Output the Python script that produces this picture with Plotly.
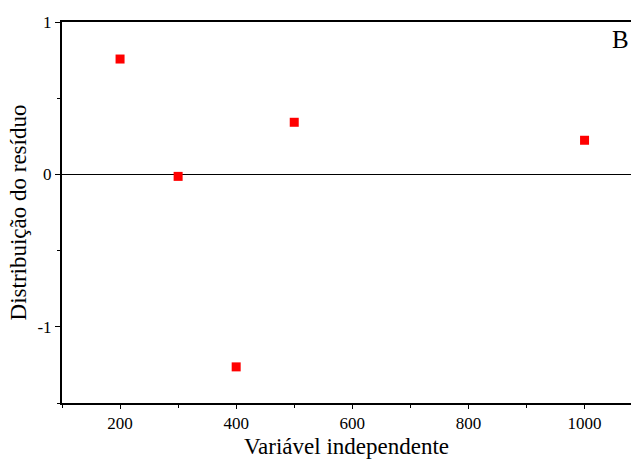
import plotly.graph_objects as go

x_vals = [200, 300, 400, 500, 1000]
residuals = [0.757, -0.013, -1.263, 0.342, 0.224]
x_ticks = [200, 400, 600, 800, 1000]
y_ticks = [-1, 0, 1]
y_tick_labels = ["-1", "0", "1"]

font_family = "Liberation Serif"

fig = go.Figure()
fig.add_trace(go.Scatter(
    x=x_vals, y=residuals, mode="markers",
    marker=dict(symbol="square", size=9, color="#ff0000", line=dict(width=0)),
    showlegend=False,
))

fig.update_layout(
    width=631, height=459,
    margin=dict(l=62, r=0, t=22, b=56),
    paper_bgcolor="white", plot_bgcolor="white",
    font=dict(family=font_family, color="black", size=16),
    xaxis=dict(
        range=[100, 1080], tickvals=x_ticks, ticktext=[str(v) for v in x_ticks],
        showgrid=False, zeroline=False, automargin=False,
        showline=True, linecolor="black", linewidth=1.5, mirror=True,
        ticks="outside", ticklen=4, tickwidth=1, tickcolor="black",
        minor=dict(dtick=100, tick0=100, ticks="outside", ticklen=3, tickcolor="black", tickwidth=1),
        tickfont=dict(size=17, family=font_family),
        title=dict(text="Variável independente", font=dict(size=23, family=font_family), standoff=17),
    ),
    yaxis=dict(
        range=[-1.5, 1], tickvals=y_ticks, ticktext=y_tick_labels,
        showgrid=False, zeroline=True, zerolinecolor="black", zerolinewidth=1, automargin=False,
        showline=True, linecolor="black", linewidth=2,
        ticks="outside", ticklen=5, tickwidth=1, tickcolor="black",
        minor=dict(dtick=0.5, tick0=0, ticks="outside", ticklen=3, tickcolor="black", tickwidth=1),
        tickfont=dict(size=17, family=font_family),
        title=dict(text="Distribuição do resíduo", font=dict(size=23, family=font_family), standoff=4),
    ),
    annotations=[dict(
        text="B", xref="paper", yref="paper", x=1, y=0.955, xanchor="right", yanchor="middle",
        showarrow=False, font=dict(size=25, family=font_family, color="black"),
    )],
)

fig.write_html("out.html", config={"displayModeBar": False},
               post_script="document.body.style.margin='0';document.body.style.padding='0';")
